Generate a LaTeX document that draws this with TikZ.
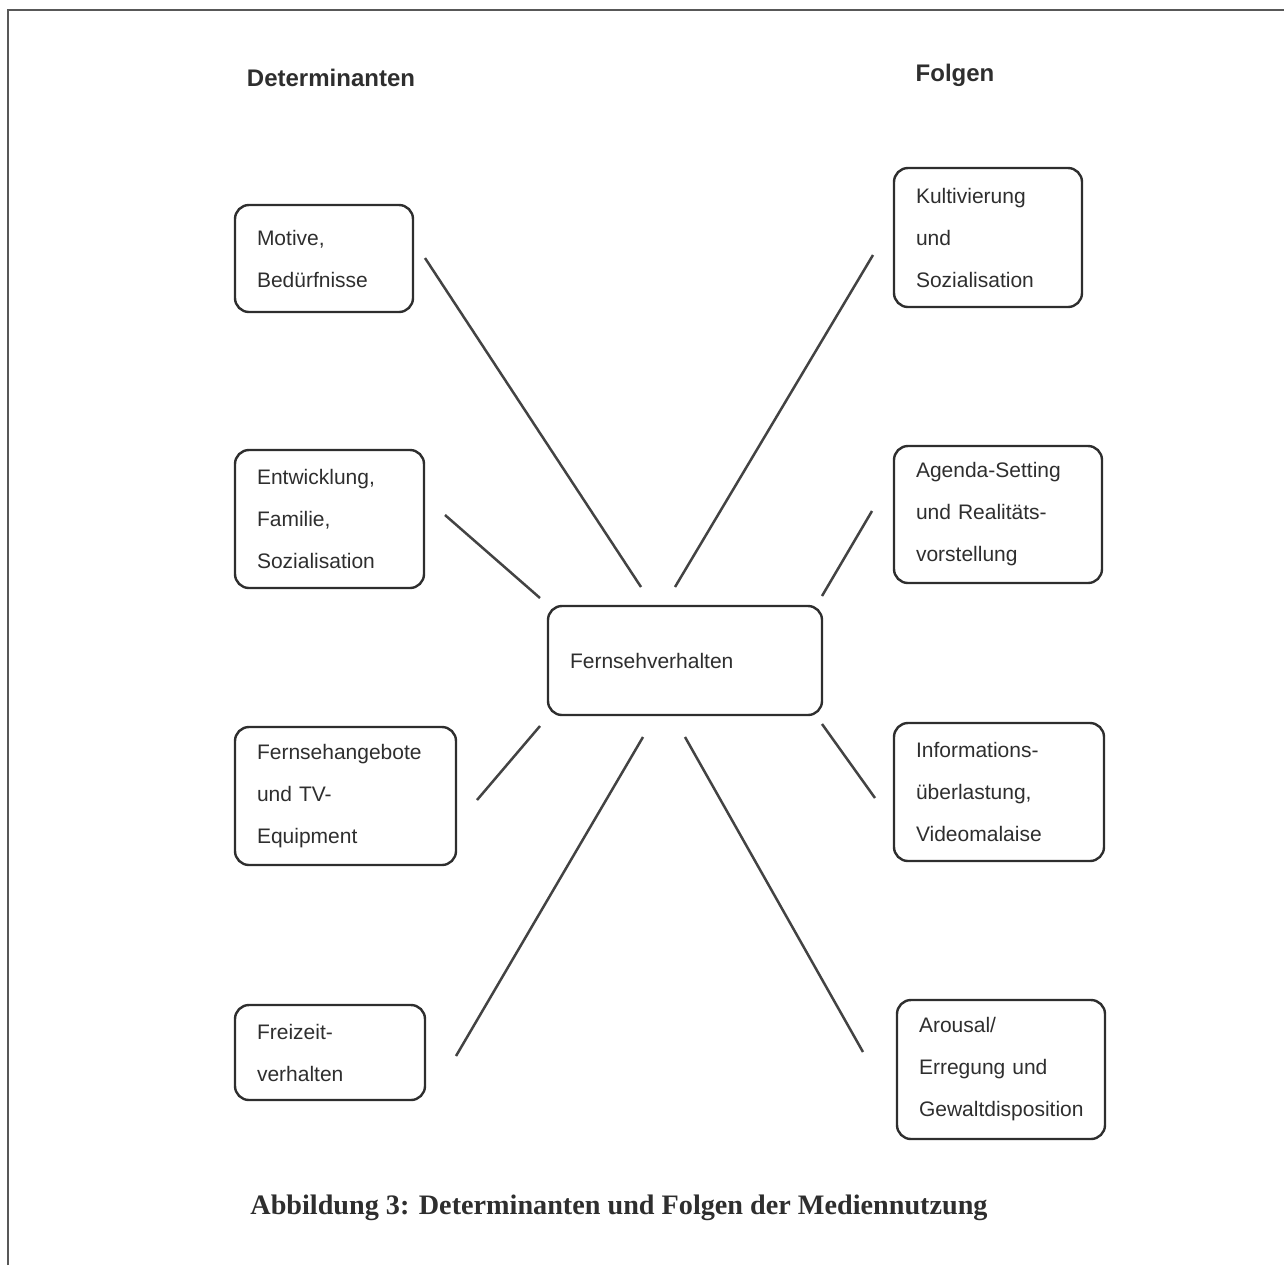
\documentclass[tikz,border=0pt]{standalone}
\usepackage{fontspec}
\setmainfont{Liberation Serif}
\setsansfont{Liberation Sans}
\usepackage{tikz}
\definecolor{ink}{HTML}{2E2E2E}

\begin{document}
\begin{tikzpicture}[x=0.5pt, y=-0.5pt,
  kasten/.style = {shape=rectangle, draw=ink, line width=1.2pt,
    rounded corners=7pt, align=left, inner xsep=11pt, inner ysep=0pt,
    text=ink, font=\sffamily\fontsize{10.5}{21}\selectfont},
  titel/.style = {text=ink, font=\sffamily\bfseries\fontsize{12}{14}\selectfont},
  linie/.style = {draw=ink!90, line width=1.25pt}]
  \useasboundingbox (0,0) rectangle (1284,1265);
  \draw[ink!80, line width=1.4pt] (8,1265) -- (8,10) -- (1284,10);

  \node[titel] (det) at (331,78) {Determinanten};
  \node[titel] (fol) at (955,75) {Folgen};

  \node[kasten, text width=67pt, minimum height=53.5pt] (motive) at (324,258.5)
    {Motive,\\Bedürfnisse};
  \node[kasten, text width=72.5pt, minimum height=69pt] (entw) at (329.5,519)
    {Entwicklung,\\Familie,\\Sozialisation};
  \node[kasten, text width=88.5pt, minimum height=69pt] (angebot) at (345.5,796)
    {Fernsehangebote\\und TV-\\Equipment};
  \node[kasten, text width=73pt, minimum height=47.5pt] (freizeit) at (330,1052.5)
    {Freizeit-\\verhalten};

  \node[kasten, text width=72pt, minimum height=69.5pt] (kult) at (988,237.5)
    {Kultivierung\\und\\Sozialisation};
  \node[kasten, text width=82pt, minimum height=68.5pt] (agenda) at (998,514.5)
    {Agenda-Setting\\und Realitäts-\\vorstellung};
  \node[kasten, text width=83pt, minimum height=69pt] (info) at (999,792)
    {Informations-\\überlastung,\\Videomalaise};
  \node[kasten, text width=82pt, minimum height=69.5pt] (arousal) at (1001,1069.5)
    {Arousal/\\Erregung und\\Gewaltdisposition};

  \node[kasten, text width=115pt, minimum height=54.5pt] (tv) at (685,660.5)
    {Fernsehverhalten};

  \coordinate (motive-a) at (425,258);   \coordinate (motive-b) at (641,587);
  \coordinate (entw-a) at (445,515);     \coordinate (entw-b) at (540,598);
  \coordinate (angebot-a) at (477,800);  \coordinate (angebot-b) at (540,726);
  \coordinate (freizeit-a) at (456,1056); \coordinate (freizeit-b) at (643,737);
  \coordinate (kult-a) at (873,255);     \coordinate (kult-b) at (675,587);
  \coordinate (agenda-a) at (872,511);   \coordinate (agenda-b) at (822,596);
  \coordinate (info-a) at (875,798);     \coordinate (info-b) at (822,724);
  \coordinate (arousal-a) at (863,1052); \coordinate (arousal-b) at (685,737);

  \draw[linie] (motive-a) -- (motive-b);
  \draw[linie] (entw-a) -- (entw-b);
  \draw[linie] (angebot-a) -- (angebot-b);
  \draw[linie] (freizeit-a) -- (freizeit-b);
  \draw[linie] (kult-a) -- (kult-b);
  \draw[linie] (agenda-a) -- (agenda-b);
  \draw[linie] (info-a) -- (info-b);
  \draw[linie] (arousal-a) -- (arousal-b);

  \node[text=ink, font=\bfseries\fontsize{14.1}{17}\selectfont] (caption) at (619,1208)
    {Abbildung 3: Determinanten und Folgen der Mediennutzung};
\end{tikzpicture}
\end{document}
